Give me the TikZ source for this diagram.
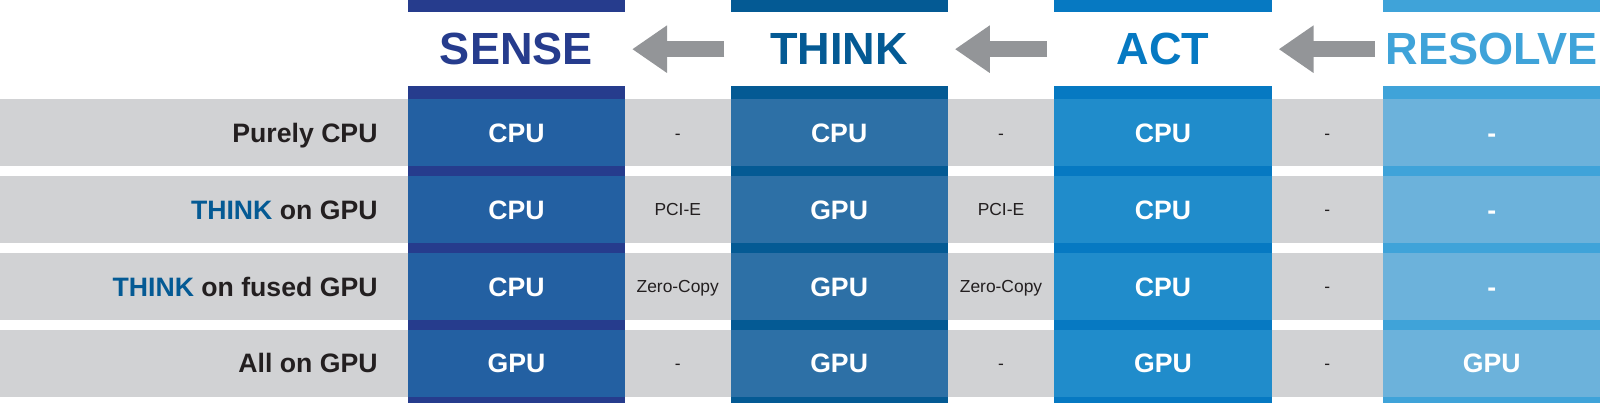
\documentclass[tikz,border=0pt]{standalone}
\usepackage{fontspec}
\setmainfont{Liberation Sans}
\usetikzlibrary{arrows.meta, shapes.arrows}
\definecolor{band}{HTML}{D1D2D4}
\definecolor{senseH}{HTML}{263C8D}
\definecolor{senseC}{HTML}{2360A2}
\definecolor{thinkH}{HTML}{045A94}
\definecolor{thinkC}{HTML}{2D70A6}
\definecolor{actH}{HTML}{0679C2}
\definecolor{actC}{HTML}{208CCB}
\definecolor{resH}{HTML}{3FA3D9}
\definecolor{resC}{HTML}{6CB2DB}
\definecolor{arr}{HTML}{939598}
\definecolor{lbl}{HTML}{231F20}

\begin{document}
\begin{tikzpicture}[x=1pt, y=-1pt,
  title/.style={font=\fontsize{44}{44}\selectfont\bfseries},
  cell/.style={font=\fontsize{26}{26}\selectfont\bfseries, text=white, text height=19pt, text depth=0pt},
  rowlbl/.style={font=\fontsize{26}{26}\selectfont\bfseries, text=lbl, anchor=east, text height=19pt, text depth=0pt},
  link/.style={font=\fontsize{17}{17}\selectfont, text=lbl, text height=12.5pt, text depth=0pt},
  back/.style={-{Triangle[length=34pt, width=44pt]}, line width=16pt, arr}]

% gray bands
\foreach \r/\y in {1/97, 2/172, 3/247, 4/322}
  \fill[band] (0,\y) rectangle (1562,\y+65);

% columns
\foreach \c/\x/\h/\f/\t in {1/398/senseH/senseC/SENSE, 2/713/thinkH/thinkC/THINK,
                             3/1029/actH/actC/ACT, 4/1350/resH/resC/RESOLVE} {
  \fill[\h] (\x,0) rectangle (\x+212,12);
  \fill[\h] (\x,84) rectangle (\x+212,393);
  \foreach \y in {97, 172, 247, 322}
    \fill[\f] (\x,\y) rectangle (\x+212,\y+65);
  \node[title, text=\h] (t\c) at (\x+106,48) {\t};
}

% arrows between stages
\draw[back] (707,48) -- (617,48);
\draw[back] (1022,48) -- (932,48);
\draw[back] (1342,48) -- (1248,48);

% row labels
\node[rowlbl] (r1) at (372,129.5) {Purely CPU};
\node[rowlbl] (r2) at (372,204.5) {\textcolor{thinkH}{THINK} on GPU};
\node[rowlbl] (r3) at (372,279.5) {\textcolor{thinkH}{THINK} on fused GPU};
\node[rowlbl] (r4) at (372,354.5) {All on GPU};

% cells
\foreach \r/\y/\a/\b/\c/\d/\p/\q in {
    1/129.5/CPU/CPU/CPU/-/-/-,
    2/204.5/CPU/GPU/CPU/-/PCI-E/PCI-E,
    3/279.5/CPU/GPU/CPU/-/Zero-Copy/Zero-Copy,
    4/354.5/GPU/GPU/GPU/GPU/-/-} {
  \node[cell] (s\r) at (504,\y) {\a};
  \node[cell] (k\r) at (819,\y) {\b};
  \node[cell] (a\r) at (1135,\y) {\c};
  \node[cell] (v\r) at (1456,\y) {\d};
  \node[link] (p\r) at (661.5,\y) {\p};
  \node[link] (q\r) at (977,\y) {\q};
  \node[link] (m\r) at (1295.5,\y) {-};
}

\pgfresetboundingbox
\useasboundingbox (0,0) rectangle (1566.5,393.3);
\end{tikzpicture}
\end{document}
